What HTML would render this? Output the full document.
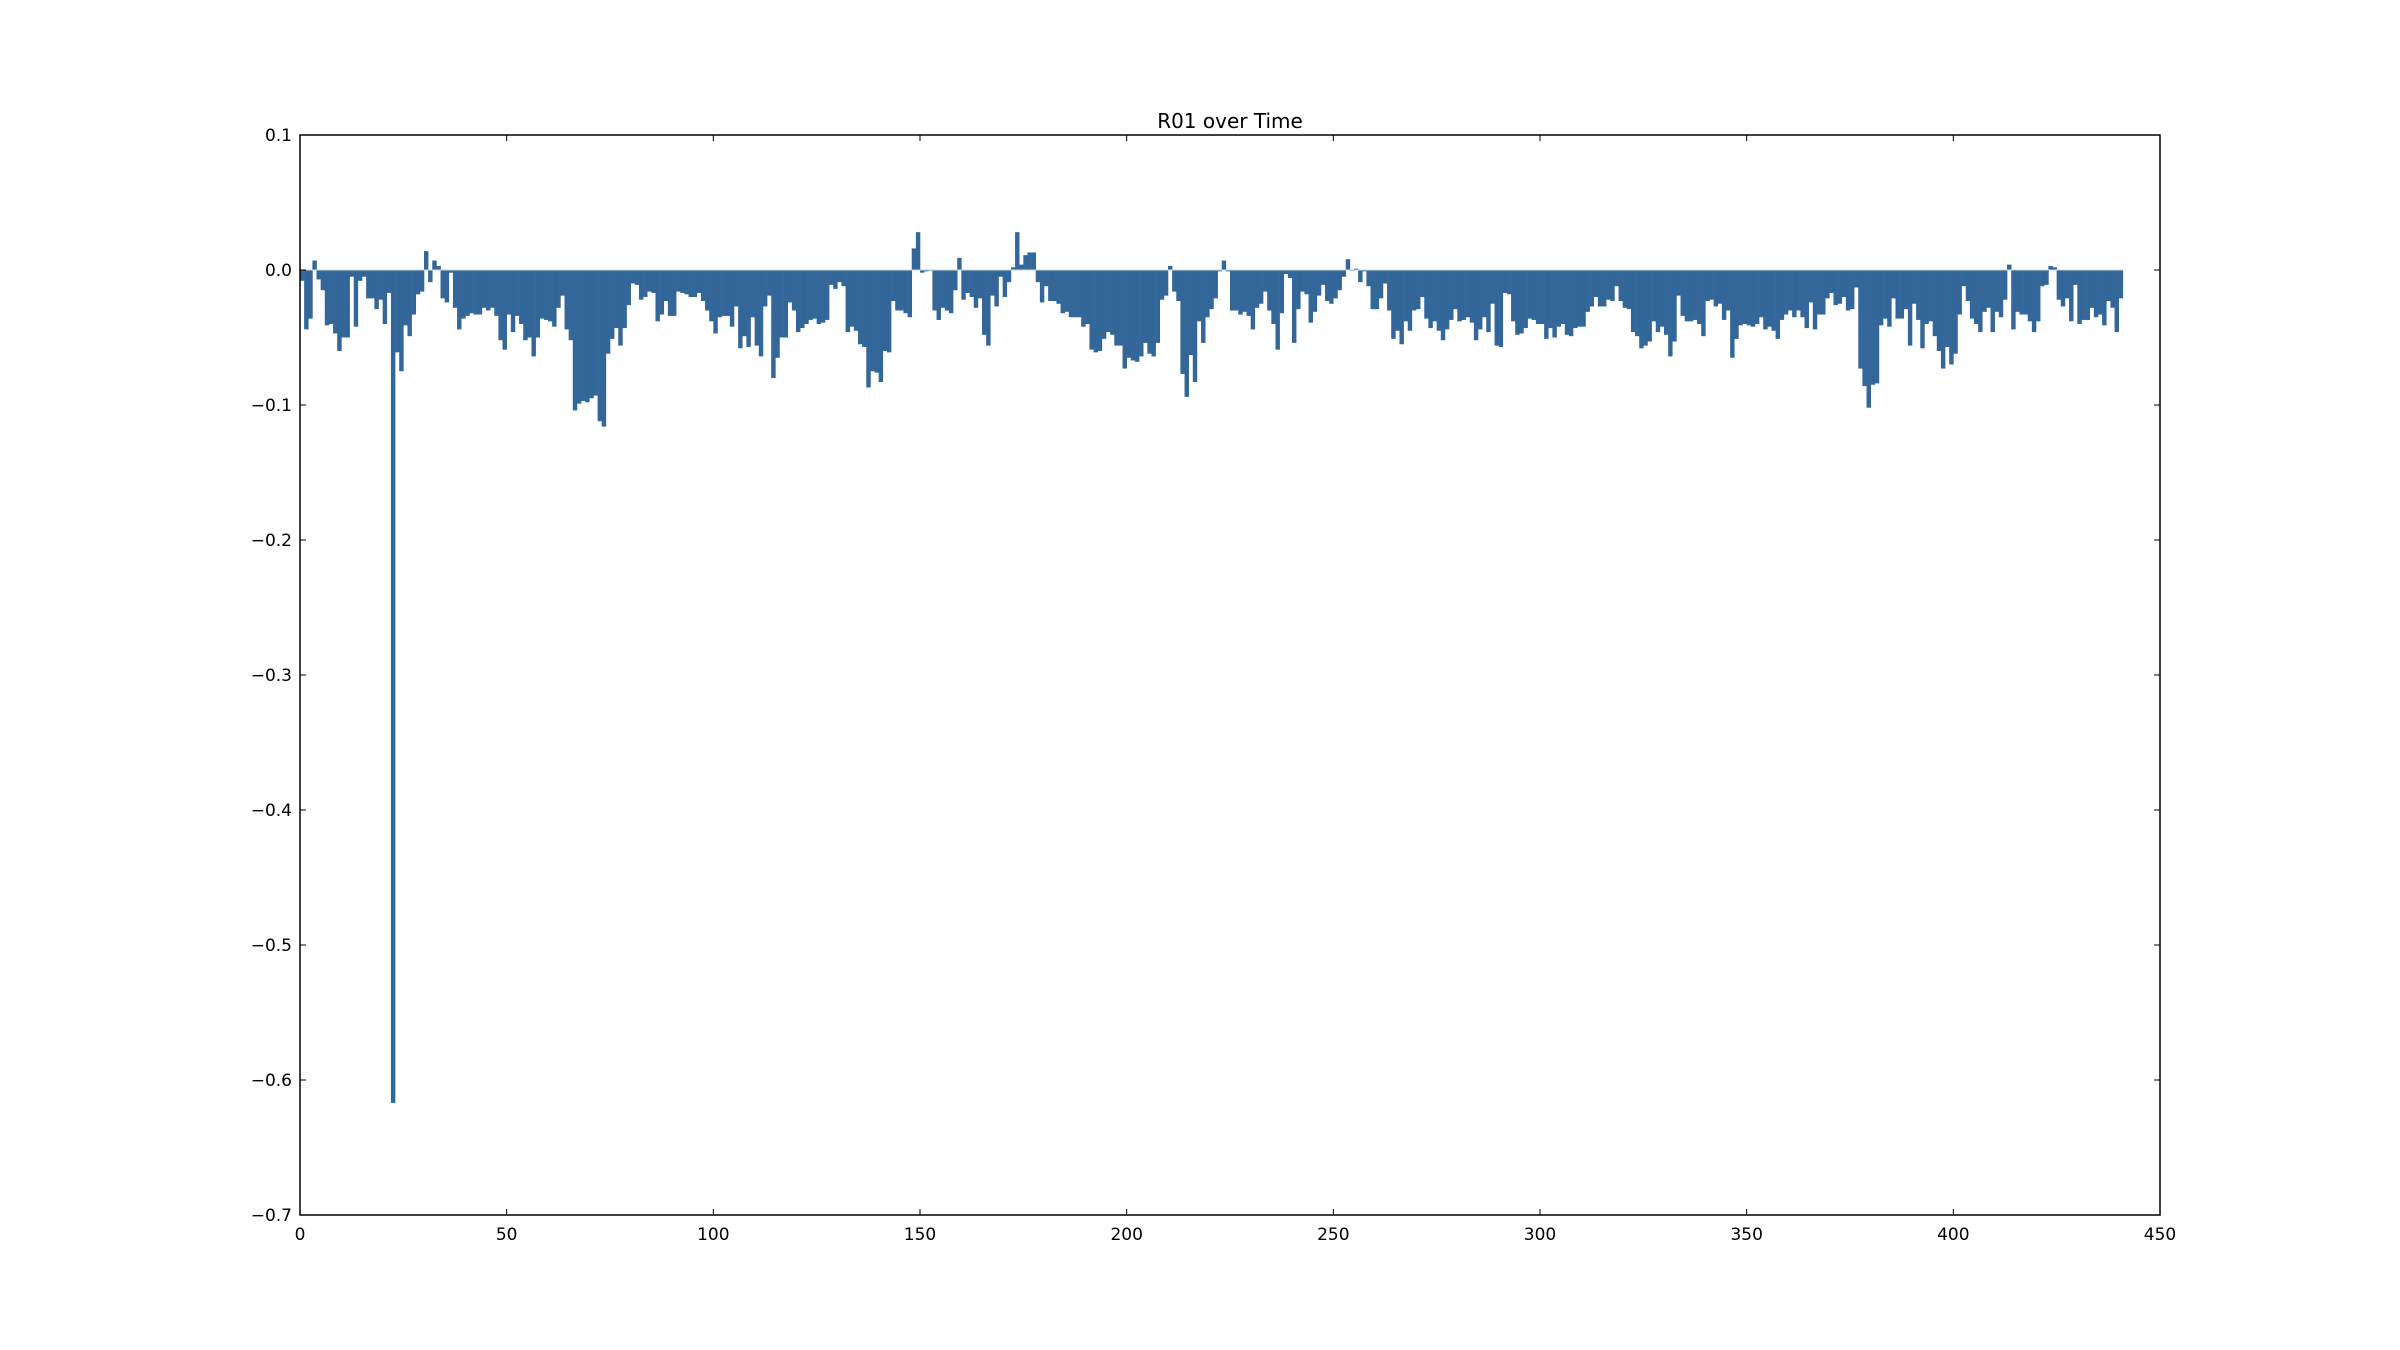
<!DOCTYPE html>
<html><head><meta charset="utf-8"><title>R01 over Time</title>
<style>
html,body{margin:0;padding:0;background:#fff;}
svg{display:block;font-family:"DejaVu Sans","Liberation Sans",sans-serif;}
</style></head>
<body>
<svg id="chart" width="2400" height="1350" viewBox="0 0 2400 1350" xmlns="http://www.w3.org/2000/svg">
<rect x="0" y="0" width="2400" height="1350" fill="#fff"/>
<text x="1230" y="128" text-anchor="middle" font-size="20" fill="#000">R01 over Time</text>
<g id="bars"></g>
<g id="xticks"></g>
<g id="yticks"></g>
<rect x="300" y="135" width="1860" height="1080" fill="none" stroke="#000" stroke-width="1.5"/>
</svg>
<script>
const values = [
-0.008,-0.044,-0.036,0.007,-0.007,-0.015,-0.041,-0.040,-0.047,-0.060,
-0.050,-0.050,-0.005,-0.042,-0.008,-0.005,-0.021,-0.021,-0.029,-0.022,
-0.040,-0.017,-0.617,-0.061,-0.075,-0.041,-0.049,-0.033,-0.018,-0.016,
0.014,-0.009,0.007,0.003,-0.021,-0.024,-0.002,-0.028,-0.044,-0.036,
-0.034,-0.032,-0.033,-0.033,-0.028,-0.030,-0.028,-0.034,-0.052,-0.059,
-0.033,-0.046,-0.034,-0.040,-0.052,-0.050,-0.064,-0.050,-0.036,-0.037,
-0.038,-0.042,-0.028,-0.019,-0.044,-0.052,-0.104,-0.099,-0.097,-0.098,
-0.095,-0.093,-0.112,-0.116,-0.062,-0.051,-0.043,-0.056,-0.043,-0.026,
-0.010,-0.011,-0.022,-0.020,-0.016,-0.017,-0.038,-0.033,-0.023,-0.034,
-0.034,-0.016,-0.017,-0.018,-0.020,-0.020,-0.017,-0.023,-0.030,-0.038,
-0.047,-0.035,-0.034,-0.034,-0.042,-0.027,-0.058,-0.049,-0.057,-0.035,
-0.056,-0.064,-0.027,-0.019,-0.080,-0.065,-0.050,-0.050,-0.024,-0.030,
-0.046,-0.043,-0.040,-0.037,-0.036,-0.040,-0.039,-0.037,-0.011,-0.014,
-0.009,-0.012,-0.046,-0.042,-0.045,-0.055,-0.057,-0.087,-0.075,-0.076,
-0.083,-0.060,-0.061,-0.023,-0.030,-0.030,-0.032,-0.035,0.016,0.028,
-0.002,-0.001,-0.0005,-0.030,-0.037,-0.028,-0.030,-0.032,-0.015,0.009,
-0.022,-0.017,-0.020,-0.028,-0.021,-0.048,-0.056,-0.019,-0.027,-0.005,
-0.020,-0.009,0.002,0.028,0.004,0.011,0.013,0.013,-0.009,-0.024,
-0.012,-0.023,-0.023,-0.025,-0.032,-0.031,-0.035,-0.035,-0.035,-0.042,
-0.040,-0.059,-0.061,-0.060,-0.051,-0.046,-0.048,-0.056,-0.056,-0.073,
-0.065,-0.067,-0.068,-0.064,-0.054,-0.062,-0.064,-0.054,-0.022,-0.019,
0.003,-0.016,-0.023,-0.077,-0.094,-0.063,-0.083,-0.038,-0.054,-0.035,
-0.029,-0.021,-0.001,0.007,-0.001,-0.030,-0.030,-0.033,-0.031,-0.034,
-0.044,-0.028,-0.025,-0.016,-0.030,-0.040,-0.059,-0.032,-0.003,-0.006,
-0.054,-0.029,-0.016,-0.018,-0.039,-0.031,-0.019,-0.011,-0.023,-0.025,
-0.021,-0.015,-0.005,0.008,-0.0005,0.001,-0.009,-0.001,-0.012,-0.029,
-0.029,-0.021,-0.010,-0.030,-0.051,-0.045,-0.055,-0.038,-0.045,-0.030,
-0.029,-0.020,-0.036,-0.043,-0.038,-0.045,-0.052,-0.044,-0.037,-0.029,
-0.038,-0.037,-0.035,-0.039,-0.052,-0.044,-0.035,-0.046,-0.025,-0.056,
-0.057,-0.017,-0.018,-0.038,-0.048,-0.047,-0.043,-0.036,-0.037,-0.040,
-0.040,-0.051,-0.043,-0.050,-0.042,-0.040,-0.048,-0.049,-0.043,-0.042,
-0.042,-0.031,-0.027,-0.020,-0.027,-0.027,-0.022,-0.023,-0.012,-0.023,
-0.028,-0.029,-0.046,-0.049,-0.058,-0.056,-0.053,-0.038,-0.046,-0.042,
-0.048,-0.064,-0.053,-0.019,-0.034,-0.038,-0.038,-0.037,-0.040,-0.049,
-0.023,-0.022,-0.027,-0.025,-0.037,-0.030,-0.065,-0.051,-0.041,-0.040,
-0.041,-0.042,-0.040,-0.035,-0.044,-0.042,-0.045,-0.051,-0.037,-0.033,
-0.030,-0.035,-0.030,-0.035,-0.043,-0.024,-0.044,-0.033,-0.033,-0.021,
-0.017,-0.026,-0.025,-0.020,-0.030,-0.029,-0.013,-0.073,-0.086,-0.102,
-0.085,-0.084,-0.041,-0.036,-0.042,-0.021,-0.036,-0.036,-0.029,-0.056,
-0.025,-0.037,-0.058,-0.040,-0.038,-0.049,-0.060,-0.073,-0.057,-0.070,
-0.062,-0.033,-0.012,-0.023,-0.036,-0.040,-0.046,-0.031,-0.028,-0.046,
-0.031,-0.035,-0.022,0.004,-0.044,-0.031,-0.033,-0.033,-0.038,-0.046,
-0.038,-0.012,-0.011,0.003,0.002,-0.022,-0.027,-0.021,-0.038,-0.011,
-0.040,-0.037,-0.037,-0.028,-0.035,-0.033,-0.041,-0.023,-0.028,-0.046,
-0.021
];
const xTickValues = [0,50,100,150,200,250,300,350,400,450];
const yTickValues = [0.1,0.0,-0.1,-0.2,-0.3,-0.4,-0.5,-0.6,-0.7];

const NS = 'http://www.w3.org/2000/svg';
const L = 300, R = 2160, T = 135, B = 1215;
const xMin = 0, xMax = 450, yMin = -0.7, yMax = 0.1;
function xs(v){ return L + (v - xMin) / (xMax - xMin) * (R - L); }
function ys(v){ return T + (yMax - v) / (yMax - yMin) * (B - T); }
function mk(tag, attrs){ const e = document.createElementNS(NS, tag); for (const k in attrs) e.setAttribute(k, attrs[k]); return e; }

const barsG = document.getElementById('bars');
values.forEach((v, i) => {
  const x0 = xs(i), x1 = xs(i + 1);
  const y0 = ys(Math.max(v, 0)), y1 = ys(Math.min(v, 0));
  const r = mk('rect', {x: x0, y: y0, width: x1 - x0 + 0.3, height: Math.max(y1 - y0, 0.8), fill: '#336699', stroke: 'none'});
  
  
  barsG.appendChild(r);
});
const zl = mk('line', {x1: xs(0), x2: xs(values.length), y1: ys(0), y2: ys(0), stroke: '#c9d6e4', 'stroke-width': 1});


barsG.appendChild(zl);

const fmtY = v => (v < 0 ? '\u2212' : '') + Math.abs(v).toFixed(1);
const xg = document.getElementById('xticks');
xTickValues.forEach(v => {
  const x = xs(v);
  const t1 = mk('line', {x1: x, x2: x, y1: B, y2: B - 6, stroke: '#000', 'stroke-width': 1});
  
  
  xg.appendChild(t1);
  const t2 = mk('line', {x1: x, x2: x, y1: T, y2: T + 6, stroke: '#000', 'stroke-width': 1});
  
  
  xg.appendChild(t2);
  const lb = mk('text', {x: x, y: 1240, 'text-anchor': 'middle', 'font-size': 17, fill: '#000'});
  lb.textContent = String(v);
  
  
  xg.appendChild(lb);
});
const yg = document.getElementById('yticks');
yTickValues.forEach(v => {
  const y = ys(v);
  const t1 = mk('line', {x1: L, x2: L + 6, y1: y, y2: y, stroke: '#000', 'stroke-width': 1});
  
  
  yg.appendChild(t1);
  const t2 = mk('line', {x1: R, x2: R - 6, y1: y, y2: y, stroke: '#000', 'stroke-width': 1});
  
  
  yg.appendChild(t2);
  const lb = mk('text', {x: 292, y: y + 6, 'text-anchor': 'end', 'font-size': 17, fill: '#000'});
  lb.textContent = fmtY(v);
  
  
  yg.appendChild(lb);
});
</script>
</body></html>
